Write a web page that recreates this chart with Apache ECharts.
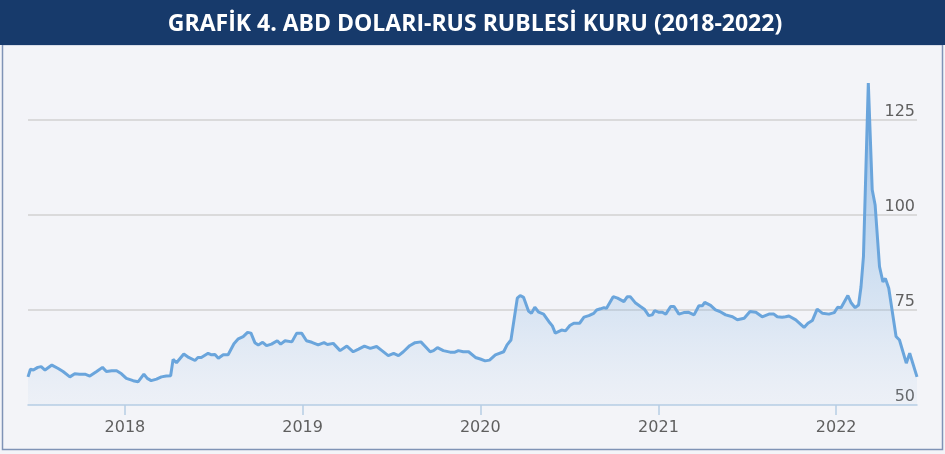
<!DOCTYPE html>
<html>
<head>
<meta charset="utf-8">
<script src="https://cdn.jsdelivr.net/npm/echarts@6/dist/echarts.min.js"></script>
<style>
  html, body { margin: 0; padding: 0; background: #f3f4f8; }
  #chart { width: 945px; height: 454px; }
</style>
</head>
<body>
<div id="chart"></div>
<script>
// weekly-ish USD/RUB readings, Jun 2017 - Jun 2022
const dates = [
  "2017-06-16", "2017-06-21", "2017-06-27", "2017-07-06", "2017-07-13", "2017-07-21",
  "2017-08-04", "2017-08-17", "2017-08-27", "2017-09-10", "2017-09-20", "2017-09-30",
  "2017-10-11", "2017-10-21", "2017-11-04", "2017-11-16", "2017-11-24", "2017-12-05",
  "2017-12-15", "2017-12-25", "2018-01-04", "2018-01-18", "2018-01-28", "2018-02-01",
  "2018-02-09", "2018-02-16", "2018-02-24", "2018-03-07", "2018-03-17", "2018-03-27",
  "2018-04-05", "2018-04-10", "2018-04-17", "2018-05-02", "2018-05-12", "2018-05-25",
  "2018-05-31", "2018-06-07", "2018-06-21", "2018-06-28", "2018-07-05", "2018-07-12",
  "2018-07-22", "2018-08-01", "2018-08-13", "2018-08-22", "2018-09-01", "2018-09-10",
  "2018-09-17", "2018-09-25", "2018-10-02", "2018-10-11", "2018-10-19", "2018-10-29",
  "2018-11-10", "2018-11-17", "2018-11-26", "2018-12-10", "2018-12-20", "2018-12-30",
  "2019-01-09", "2019-01-20", "2019-02-02", "2019-02-14", "2019-02-21", "2019-03-05",
  "2019-03-19", "2019-04-02", "2019-04-15", "2019-04-26", "2019-05-08", "2019-05-20",
  "2019-06-02", "2019-06-13", "2019-06-26", "2019-07-07", "2019-07-17", "2019-07-27",
  "2019-08-09", "2019-08-20", "2019-09-01", "2019-09-10", "2019-09-20", "2019-09-27",
  "2019-10-05", "2019-10-17", "2019-10-31", "2019-11-10", "2019-11-17", "2019-11-27",
  "2019-12-08", "2019-12-22", "2020-01-01", "2020-01-11", "2020-01-20", "2020-02-01",
  "2020-02-18", "2020-02-25", "2020-03-04", "2020-03-17", "2020-03-23", "2020-03-30",
  "2020-04-09", "2020-04-15", "2020-04-22", "2020-04-30", "2020-05-10", "2020-05-21",
  "2020-05-28", "2020-06-03", "2020-06-16", "2020-06-24", "2020-07-03", "2020-07-11",
  "2020-07-23", "2020-08-01", "2020-08-11", "2020-08-21", "2020-08-27", "2020-09-04",
  "2020-09-11", "2020-09-16", "2020-09-30", "2020-10-09", "2020-10-22", "2020-10-29",
  "2020-11-04", "2020-11-15", "2020-11-25", "2020-12-03", "2020-12-12", "2020-12-19",
  "2020-12-24", "2021-01-01", "2021-01-09", "2021-01-16", "2021-01-26", "2021-02-02",
  "2021-02-12", "2021-02-22", "2021-03-03", "2021-03-15", "2021-03-25", "2021-04-01",
  "2021-04-06", "2021-04-18", "2021-04-28", "2021-05-07", "2021-05-19", "2021-06-02",
  "2021-06-12", "2021-06-26", "2021-07-08", "2021-07-20", "2021-08-02", "2021-08-16",
  "2021-08-26", "2021-09-02", "2021-09-12", "2021-09-19", "2021-09-26", "2021-10-10",
  "2021-10-27", "2021-11-04", "2021-11-13", "2021-11-23", "2021-12-04", "2021-12-17",
  "2021-12-28", "2022-01-04", "2022-01-11", "2022-01-25", "2022-02-01", "2022-02-09",
  "2022-02-16", "2022-02-21", "2022-02-26", "2022-03-08", "2022-03-16", "2022-03-22",
  "2022-03-31", "2022-04-07", "2022-04-12", "2022-04-19", "2022-05-04", "2022-05-11",
  "2022-05-25", "2022-06-01", "2022-06-16"
];
const rates = [
  57.4, 59.4, 59.2, 59.9, 60.1, 59.2,
  60.5, 59.6, 58.8, 57.4, 58.2, 58.1,
  58.1, 57.6, 58.8, 59.9, 58.8, 59.0,
  59.0, 58.2, 57.0, 56.4, 56.1, 56.3,
  58.1, 57.0, 56.4, 56.8, 57.4, 57.6,
  57.7, 62.0, 61.1, 63.4, 62.5, 61.7,
  62.5, 62.5, 63.6, 63.2, 63.3, 62.3,
  63.2, 63.2, 66.1, 67.4, 68.0, 69.1,
  68.9, 66.4, 65.8, 66.5, 65.6, 66.0,
  66.9, 66.0, 66.9, 66.6, 68.9, 68.9,
  66.9, 66.5, 65.8, 66.4, 65.9, 66.2,
  64.3, 65.5, 64.0, 64.7, 65.5, 64.9,
  65.4, 64.3, 63.0, 63.6, 63.0, 64.0,
  65.6, 66.4, 66.6, 65.4, 64.0, 64.3,
  65.1, 64.3, 63.9, 63.9, 64.3, 64.0,
  64.0, 62.5, 62.1, 61.6, 61.8, 63.2,
  64.0, 65.8, 67.1, 78.1, 78.8, 78.3,
  74.7, 74.1, 75.7, 74.4, 73.9, 71.9,
  70.8, 68.9, 69.7, 69.5, 70.9, 71.5,
  71.5, 73.1, 73.5, 74.1, 75.0, 75.3,
  75.6, 75.4, 78.5, 78.1, 77.2, 78.5,
  78.5, 76.8, 75.9, 75.2, 73.5, 73.7,
  74.8, 74.4, 74.4, 73.9, 75.9, 75.9,
  73.9, 74.3, 74.4, 73.7, 76.1, 76.1,
  77.0, 76.2, 75.0, 74.6, 73.7, 73.2,
  72.4, 72.8, 74.6, 74.4, 73.2, 73.9,
  73.9, 73.2, 73.1, 73.2, 73.4, 72.4,
  70.4, 71.5, 72.2, 75.2, 74.1, 73.9,
  74.3, 75.7, 75.6, 78.8, 76.8, 75.6,
  76.3, 81.1, 89.0, 134.7, 106.6, 102.6,
  86.4, 82.4, 83.3, 80.7, 68.0, 67.1,
  61.0, 63.6, 57.4
];
const titleText = "GRAFİK 4. ABD DOLARI-RUS RUBLESİ KURU (2018-2022)";

var myChart = echarts.init(document.getElementById("chart"));
var option = {
  backgroundColor: "#f3f4f8",
  animation: false,
  graphic: [
    {
      type: "rect",
      shape: { x: 0, y: 0, width: 945, height: 45 },
      style: { fill: "#173a6b" },
      z: 10,
    },
    {
      type: "text",
      x: 475,
      y: 24,
      style: {
        text: titleText,
        fill: "#ffffff",
        font: "bold 23px 'Open Sans'",
        align: "center",
        verticalAlign: "middle",
      },
      z: 11,
    },
    {
      type: "rect",
      shape: { x: 2.5, y: 44.5, width: 940, height: 405 },
      style: { fill: "none", stroke: "#7f93b6", lineWidth: 1.5 },
      z: 9,
    },
  ],
  grid: {
    left: 28,
    right: 28,
    top: 78,
    bottom: 49,
  },
  xAxis: {
    type: "time",
    min: "2017-06-16",
    max: "2022-06-16",
    minInterval: 365 * 24 * 3600 * 1000,
    axisLine: { lineStyle: { color: "#b7cde3", width: 1.5 } },
    axisTick: { show: true, length: 10, lineStyle: { color: "#b7cde3", width: 1.5 } },
    axisLabel: {
      formatter: "{yyyy}",
      color: "#5f5f5f",
      fontSize: 16,
      fontFamily: "DejaVu Sans",
      margin: 15,
    },
    splitLine: { show: false },
  },
  yAxis: {
    type: "value",
    position: "right",
    min: 50,
    max: 136,
    interval: 25,
    axisLine: { show: false },
    axisTick: { show: false },
    axisLabel: {
      inside: true,
      showMaxLabel: false,
      color: "#5f5f5f",
      fontSize: 16,
      fontFamily: "DejaVu Sans",
      margin: 2,
      verticalAlign: "bottom",
    },
    splitLine: {
      lineStyle: {
        color: ["transparent", "#d2d2d2", "#d2d2d2", "#d2d2d2", "transparent"],
        width: 1.5,
      },
    },
  },
  series: [
    {
      type: "line",
      data: dates.map((d, i) => [d, rates[i]]),
      showSymbol: false,
      lineStyle: { color: "#6aa5dc", width: 3 },
      itemStyle: { color: "#6aa5dc" },
      areaStyle: {
        color: new echarts.graphic.LinearGradient(0, 0, 0, 1, [
          { offset: 0, color: "rgba(85,150,218,0.8)" },
          { offset: 0.5, color: "rgba(105,165,222,0.45)" },
          { offset: 0.75, color: "rgba(125,175,225,0.28)" },
          { offset: 1, color: "rgba(170,200,232,0.12)" },
        ]),
      },
    },
  ],
};
myChart.setOption(option);
</script>
</body>
</html>
